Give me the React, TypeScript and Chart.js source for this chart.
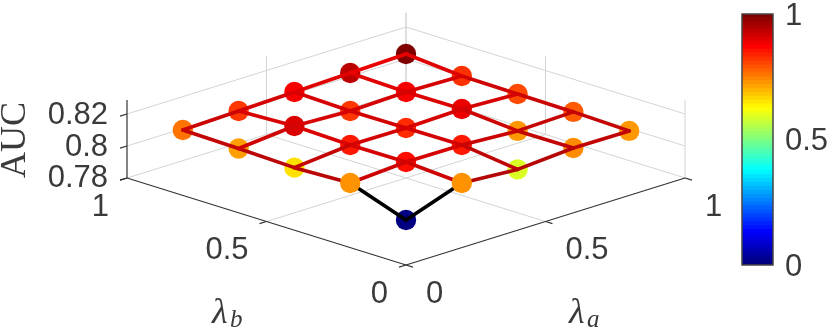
import React, { useEffect, useRef } from "react";
import { Chart, registerables } from "chart.js";

Chart.register(...registerables);

const lambdaA = [0, 0.2, 0.4, 0.6, 0.8];
const lambdaB = [0, 0.2, 0.4, 0.6, 0.8];
// auc[j][i]: row j is lambdaB, column i is lambdaA
const aucB00 = [0.8081, 0.8204, 0.818, 0.8205, 0.8203];
const aucB02 = [0.8204, 0.8226, 0.8224, 0.8203, 0.8213];
const aucB04 = [0.8191, 0.8224, 0.8221, 0.8231, 0.8216];
const aucB06 = [0.8202, 0.8234, 0.8219, 0.8229, 0.822];
const aucB08 = [0.8209, 0.8219, 0.8229, 0.8239, 0.8249];
const auc = [aucB00, aucB02, aucB04, aucB06, aucB08];

const floorTicks = [0, 0.5, 1];
const floorTickLabels = ["0", "0.5", "1"];
const aucTicks = [0.78, 0.8, 0.82];
const aucTickLabels = ["0.78", "0.8", "0.82"];
const aucMin = 0.78;
const aucTop = 0.8288;
const colorTicks = [0, 0.5, 1];
const colorSteps = 64;

// View of the 3-D box on the page
const originX = 406;
const originY = 265;
const spanX = 279;
const spanY = 87;
const spanZ = 1600;
const project = (a: number, b: number, z: number) => ({
  x: originX + spanX * (a - b),
  y: originY - spanY * (a + b) - spanZ * (z - aucMin),
});

const TEXT = "#3a3a3a";
const AXIS = "#333333";
const GRID = "#d4d4d4";
const SANS = "'Liberation Sans', Arial, sans-serif";
const SERIF = "'Liberation Serif', 'Times New Roman', serif";

const clamp = (v: number) => Math.max(0, Math.min(1, v));
const jet = (t: number) => {
  const r = clamp(1.5 - Math.abs(4 * t - 3));
  const g = clamp(1.5 - Math.abs(4 * t - 2));
  const b = clamp(1.5 - Math.abs(4 * t - 1));
  return `rgb(${Math.round(r * 255)},${Math.round(g * 255)},${Math.round(b * 255)})`;
};
const allAuc = auc.flat();
const cMin = Math.min(...allAuc);
const cMax = Math.max(...allAuc);
const colorOf = (z: number) => jet((z - cMin) / (cMax - cMin));
const edgeColor = (z: number) => {
  const t = clamp((z - 0.818) / 0.007);
  return `rgb(${Math.round(168 + t * 72)},${Math.round(8 - t * 8)},${Math.round(8 - t * 8)})`;
};

const line = (points: { x: number; y: number }[], color: string, width: number, order: number) => ({
  type: "scatter" as const,
  data: points,
  showLine: true,
  borderColor: color,
  borderWidth: width,
  pointRadius: 0,
  order,
});

const boxDatasets = () => {
  const out: any[] = [];
  const gray = (p: { x: number; y: number }[]) => out.push(line(p, GRID, 1, 6));
  const dark = (p: { x: number; y: number }[]) => out.push(line(p, AXIS, 1.2, 5));
  // floor grid and back walls
  for (const t of floorTicks.slice(1)) {
    gray([project(t, 0, aucMin), project(t, 1, aucMin)]);
    gray([project(0, t, aucMin), project(1, t, aucMin)]);
    gray([project(t, 1, aucMin), project(t, 1, aucTop)]);
    gray([project(1, t, aucMin), project(1, t, aucTop)]);
  }
  gray([project(1, 0, aucMin), project(1, 0, aucTop)]);
  for (const z of aucTicks.slice(1)) {
    gray([project(0, 1, z), project(1, 1, z)]);
    gray([project(1, 0, z), project(1, 1, z)]);
  }
  // axes and tick marks
  dark([project(0, 0, aucMin), project(1, 0, aucMin)]);
  dark([project(0, 0, aucMin), project(0, 1, aucMin)]);
  dark([project(0, 1, aucMin), project(0, 1, aucTop)]);
  for (const t of floorTicks) {
    dark([project(t, 0, aucMin), project(t, -0.025, aucMin)]);
    dark([project(0, t, aucMin), project(-0.025, t, aucMin)]);
  }
  for (const z of aucTicks) dark([project(0, 1, z), project(-0.025, 1, z)]);
  return out;
};

const meshDatasets = () => {
  const out: any[] = [];
  const polyline = (cells: [number, number][]) => {
    const zs = cells.map(([i, j]) => auc[j][i]);
    out.push({
      type: "scatter" as const,
      data: cells.map(([i, j]) => project(lambdaA[i], lambdaB[j], auc[j][i])),
      showLine: true,
      borderWidth: 3.6,
      borderCapStyle: "round",
      borderColor: "#c00000",
      pointRadius: 0,
      order: 3,
      segment: {
        borderColor: (ctx: any) => {
          const n0 = cells[ctx.p0DataIndex];
          if (n0[0] + n0[1] === 0) return "#000000";
          return edgeColor((zs[ctx.p0DataIndex] + zs[ctx.p1DataIndex]) / 2);
        },
      },
    });
  };
  lambdaB.forEach((_, j) => polyline(lambdaA.map((_, i) => [i, j] as [number, number])));
  lambdaA.forEach((_, i) => polyline(lambdaB.map((_, j) => [i, j] as [number, number])));
  return out;
};

const markerDataset = (cells: [number, number][], order: number) => ({
  type: "scatter" as const,
  data: cells.map(([i, j]) => project(lambdaA[i], lambdaB[j], auc[j][i])),
  pointRadius: 10.2,
  pointBorderWidth: 0,
  pointBackgroundColor: cells.map(([i, j]) => colorOf(auc[j][i])),
  order,
});

const allCells: [number, number][] = lambdaB.flatMap((_, j) =>
  lambdaA.map((_, i) => [i, j] as [number, number])
);
const isFront = ([i, j]: [number, number]) => i + j === 1;

const labelPlugin = {
  id: "boxLabels",
  afterDraw(chart: any) {
    const { ctx } = chart;
    ctx.save();
    ctx.fillStyle = TEXT;
    ctx.textBaseline = "middle";
    ctx.font = `31px ${SANS}`;
    ctx.textAlign = "right";
    aucTicks.forEach((z, k) => {
      const p = project(0, 1, z);
      ctx.fillText(aucTickLabels[k], p.x - 19, p.y + (k === 0 ? 0 : 1));
    });
    floorTicks.forEach((t, k) => {
      const p = project(0, t, aucMin);
      ctx.fillText(floorTickLabels[k], p.x - 18, p.y + 29);
    });
    ctx.textAlign = "left";
    floorTicks.forEach((t, k) => {
      const p = project(t, 0, aucMin);
      ctx.fillText(floorTickLabels[k], p.x + 20, p.y + 29);
    });
    ctx.font = `italic 36px ${SERIF}`;
    ctx.textBaseline = "alphabetic";
    ctx.fillText("λ", 212, 323);
    ctx.fillText("λ", 569, 323);
    ctx.font = `italic 25px ${SERIF}`;
    ctx.fillText("b", 230, 327);
    ctx.fillText("a", 587, 327);
    ctx.font = `36px ${SERIF}`;
    ctx.textAlign = "center";
    ctx.textBaseline = "middle";
    ctx.translate(16, 140);
    ctx.rotate(-Math.PI / 2);
    ctx.fillText("AUC", 0, 0);
    ctx.restore();
  },
};

const outlinePlugin = {
  id: "barOutline",
  afterDraw(chart: any) {
    const { ctx, chartArea: c } = chart;
    ctx.save();
    ctx.strokeStyle = "#454545";
    ctx.lineWidth = 1.5;
    ctx.strokeRect(c.left, c.top, c.right - c.left, c.bottom - c.top);
    ctx.restore();
  },
};

export default function App() {
  const mainRef = useRef<HTMLCanvasElement>(null);
  const barRef = useRef<HTMLCanvasElement>(null);

  useEffect(() => {
    const main = new Chart(mainRef.current!, {
      type: "scatter",
      data: {
        datasets: [
          ...boxDatasets(),
          markerDataset(allCells.filter((c) => !isFront(c)), 4),
          ...meshDatasets(),
          markerDataset(allCells.filter(isFront), 2),
        ],
      },
      options: {
        animation: false,
        responsive: false,
        layout: { padding: 0, autoPadding: false },
        plugins: { legend: { display: false }, tooltip: { enabled: false } },
        scales: {
          x: { type: "linear", min: 0, max: 831, display: false },
          y: { type: "linear", min: 0, max: 332, reverse: true, display: false },
        },
      },
      plugins: [labelPlugin],
    } as any);

    const bands = Array.from({ length: colorSteps }, (_, k) => ({
      label: `band${k}`,
      data: [1 / colorSteps],
      backgroundColor: jet(k / (colorSteps - 1)),
      borderWidth: 0,
      categoryPercentage: 1,
      barPercentage: 1,
      inflateAmount: 0.6,
    }));
    const bar = new Chart(barRef.current!, {
      type: "bar",
      data: { labels: ["colour"], datasets: bands },
      options: {
        animation: false,
        responsive: false,
        layout: { padding: { left: 12, top: 14, bottom: 67, right: 0 }, autoPadding: false },
        plugins: { legend: { display: false }, tooltip: { enabled: false } },
        scales: {
          x: { stacked: true, display: false },
          y: {
            stacked: true,
            position: "right",
            min: 0,
            max: 1,
            afterFit: (s: any) => {
              s.width = 58;
              s.paddingTop = 0;
              s.paddingBottom = 0;
            },
            afterBuildTicks: (s: any) => {
              s.ticks = colorTicks.map((value) => ({ value }));
            },
            grid: { display: false, drawTicks: false },
            border: { display: false },
            ticks: {
              color: TEXT,
              padding: 12,
              labelOffset: 2,
              maxRotation: 0,
              autoSkip: false,
              font: { family: SANS, size: 31 },
              callback: (v: any) => String(v),
            },
          },
        },
      },
      plugins: [outlinePlugin],
    } as any);

    return () => {
      main.destroy();
      bar.destroy();
    };
  }, []);

  const canvasBlur = "blur(0.45px)";
  return (
    <div style={{ position: "absolute", left: 0, top: 0, width: 831, height: 332, background: "#fff" }}>
      <canvas ref={mainRef} width={831} height={332} style={{ position: "absolute", left: 0, top: 0, filter: canvasBlur }} />
      <canvas ref={barRef} width={101} height={332} style={{ position: "absolute", left: 730, top: 0, filter: canvasBlur }} />
    </div>
  );
}
